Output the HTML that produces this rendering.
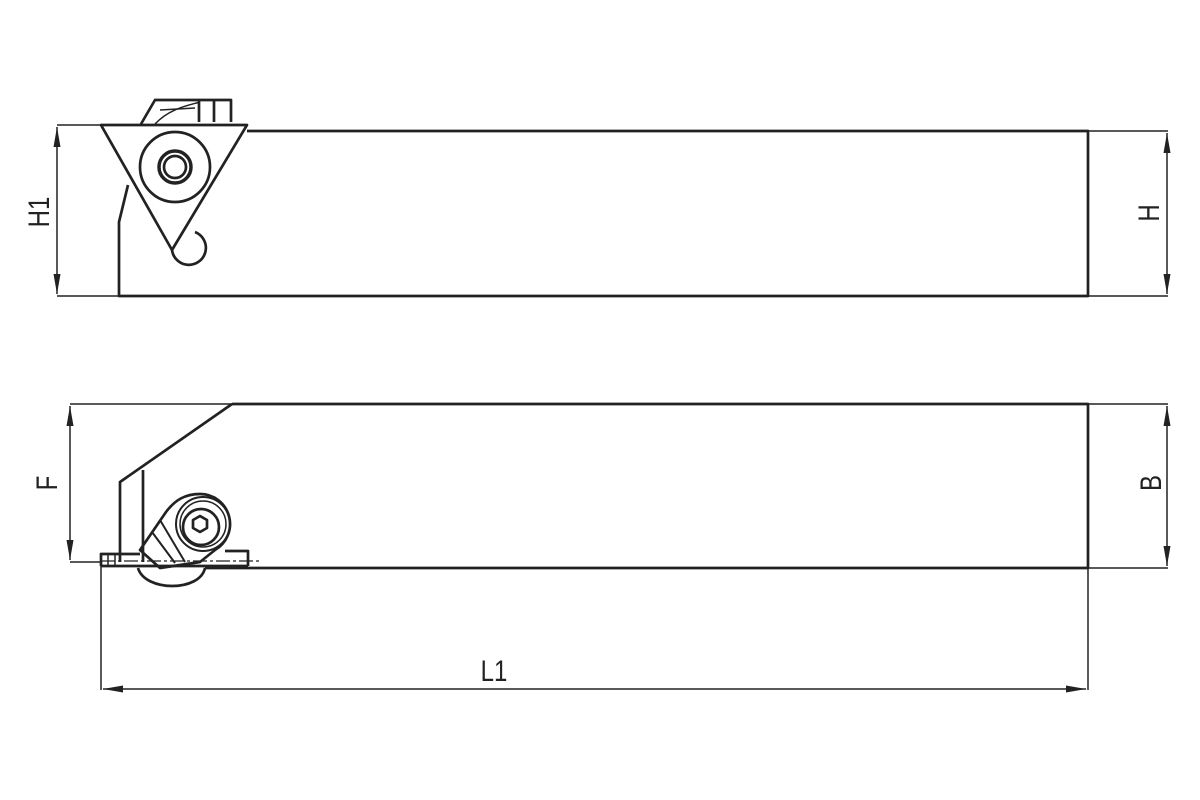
<!DOCTYPE html>
<html><head><meta charset="utf-8"><style>html,body{margin:0;padding:0;background:#fff}svg{display:block}</style></head>
<body>
<svg width="1200" height="800" viewBox="0 0 1200 800" xmlns="http://www.w3.org/2000/svg">
<defs>
<marker id="a" viewBox="0 0 10 10" refX="10" refY="5" markerWidth="20" markerHeight="7" markerUnits="userSpaceOnUse" orient="auto-start-reverse" preserveAspectRatio="none"><path d="M0,0 L10,5 L0,10 z" fill="#222"/></marker>
</defs>
<g fill="none" stroke="#222" stroke-width="2.7" stroke-linejoin="round">
<!-- top view body -->
<polyline points="247,131 1088,131 1088,296 119,296 119,222 128,185"/>
<!-- triangle insert -->
<polygon points="101,125 247,125 172,250"/>
<circle cx="175" cy="167" r="35"/>
<circle cx="175" cy="167" r="16" stroke-width="3.5"/>
<circle cx="175" cy="167" r="11"/>
<path d="M172,250 A17,17 0 1 0 195,232"/>
<!-- clamp -->
<polyline points="141,124 155,100 231,100 231,122"/>
<line x1="199" y1="100" x2="199" y2="122"/>
<line x1="214" y1="100" x2="214" y2="122"/>
<line x1="160" y1="110" x2="195" y2="108" stroke-width="1.5"/>
<path d="M155,124 C170,108 190,105 200,102" stroke-width="1.5"/>
<!-- dims top -->
<line x1="57" y1="125" x2="101" y2="125" stroke-width="1.5"/>
<line x1="57" y1="296" x2="119" y2="296" stroke-width="1.5"/>
<line x1="57" y1="127" x2="57" y2="294" stroke-width="1.5" marker-start="url(#a)" marker-end="url(#a)"/>
<line x1="1088" y1="131" x2="1168" y2="131" stroke-width="1.5"/>
<line x1="1088" y1="296" x2="1168" y2="296" stroke-width="1.5"/>
<line x1="1167" y1="133" x2="1167" y2="294" stroke-width="1.5" marker-start="url(#a)" marker-end="url(#a)"/>
<!-- bottom view body -->
<polyline points="232,404 1088,404 1088,568 205,568"/>
<polyline points="232,404 120,482 120,562"/>
<line x1="143" y1="470" x2="143" y2="562"/>
<!-- insert strip -->
<polyline points="101,566 101,554 140,554"/>
<line x1="101" y1="566" x2="248" y2="566"/>
<polyline points="225,551 248,551 248,566"/>
<line x1="101" y1="561" x2="262" y2="561" stroke-width="1.2" stroke-dasharray="14,3,3,3"/>
<line x1="108" y1="554" x2="108" y2="566" stroke-width="1.5"/>
<line x1="115" y1="554" x2="115" y2="566" stroke-width="1.5"/>
<!-- screw & clamp -->
<path d="M140,550 L166,512 C175,500 185,494 200,494 A30,30 0 0 1 215,550 L200,562 L160,568 Z"/>
<line x1="152" y1="532" x2="175" y2="563" stroke-width="2"/>
<line x1="160" y1="520" x2="185" y2="562" stroke-width="2"/>
<circle cx="203" cy="524" r="27" stroke-width="2"/>
<circle cx="203" cy="524" r="23" stroke-width="1.5"/>
<circle cx="201" cy="527" r="18"/>
<polygon points="193,520 200,516 207,520 207,528 200,532 193,528"/>
<path d="M138,568 C145,592 200,592 205,568"/>
<!-- dims bottom -->
<line x1="70" y1="404" x2="232" y2="404" stroke-width="1.5"/>
<line x1="70" y1="562" x2="101" y2="562" stroke-width="1.5"/>
<line x1="70" y1="406" x2="70" y2="560" stroke-width="1.5" marker-start="url(#a)" marker-end="url(#a)"/>
<line x1="1088" y1="404" x2="1168" y2="404" stroke-width="1.5"/>
<line x1="1088" y1="568" x2="1168" y2="568" stroke-width="1.5"/>
<line x1="1167" y1="406" x2="1167" y2="566" stroke-width="1.5" marker-start="url(#a)" marker-end="url(#a)"/>
<line x1="101" y1="566" x2="101" y2="690" stroke-width="1.5"/>
<line x1="1088" y1="568" x2="1088" y2="690" stroke-width="1.5"/>
<line x1="103" y1="689" x2="1086" y2="689" stroke-width="1.5" marker-start="url(#a)" marker-end="url(#a)"/>
</g>
<g font-family="Liberation Sans, sans-serif" font-size="30" fill="#222" text-anchor="middle">
<text transform="translate(49,212) rotate(-90) scale(0.8,1)">H1</text>
<text transform="translate(1159,213) rotate(-90) scale(0.8,1)">H</text>
<text transform="translate(57,483) rotate(-90) scale(0.8,1)">F</text>
<text transform="translate(1161,483) rotate(-90) scale(0.8,1)">B</text>
<text transform="translate(494,681) scale(0.8,1)">L1</text>
</g>
</svg>
</body></html>
